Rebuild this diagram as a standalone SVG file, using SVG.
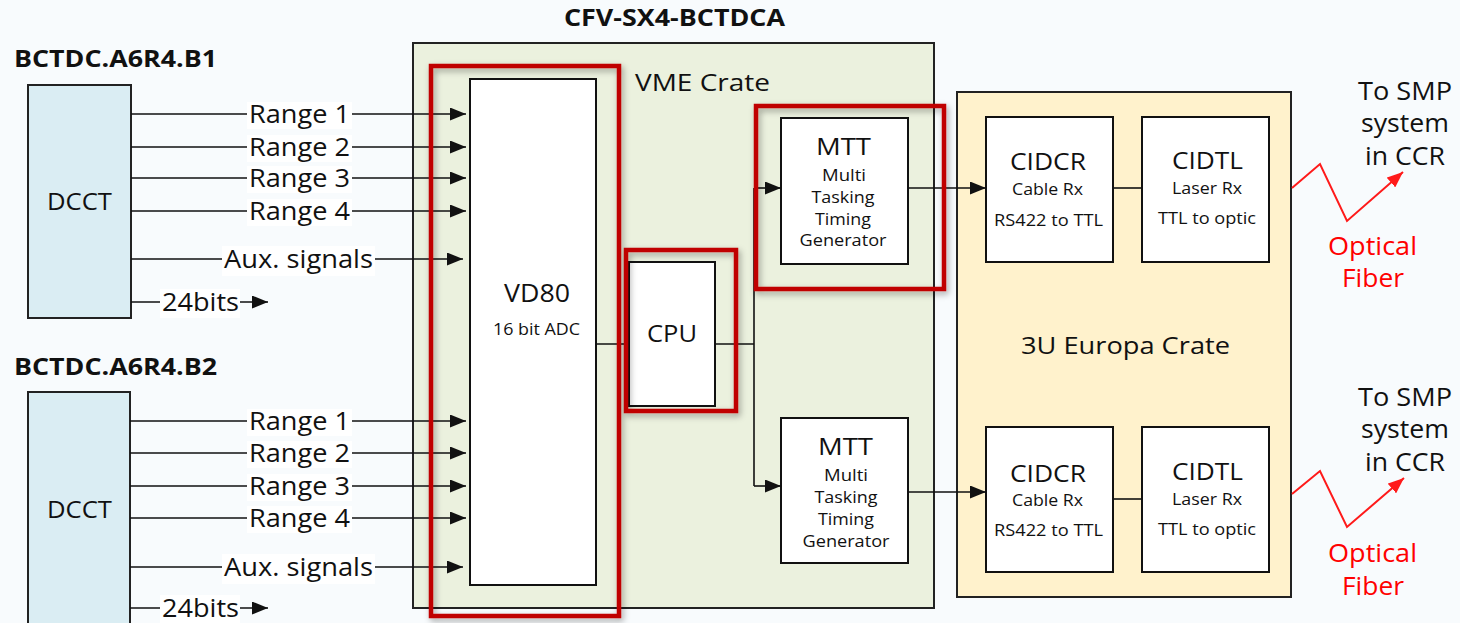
<svg xmlns="http://www.w3.org/2000/svg" width="1460" height="623" viewBox="0 0 1460 623">
<style>
text{font-family:"Open Sans","Liberation Sans",sans-serif;fill:#111}
.b{font-weight:bold}
.t25{font-size:25px}
.t23{font-size:23px}
.t16{font-size:16px}
.red{fill:#ff0000}
.box{fill:#fff;stroke:#111;stroke-width:2}
.dcct{fill:#daedf3;stroke:#222;stroke-width:2}
.hl{fill:none;stroke:#c00000;stroke-width:4.5;filter:url(#sh)}
.ln{fill:none;stroke:#111;stroke-width:1.6}
.lbg{fill:#fff}
.fib{fill:none;stroke:#ff1a1a;stroke-width:2}
</style>
<defs>
<marker id="ah" markerUnits="userSpaceOnUse" markerWidth="17" markerHeight="13" refX="16" refY="6.5" orient="auto">
<path d="M0,0 L16,6.5 L0,13 z" fill="#111"/>
</marker>
<marker id="rah" markerUnits="userSpaceOnUse" markerWidth="17" markerHeight="13" refX="16" refY="6.5" orient="auto">
<path d="M0,0 L16,6.5 L0,13 z" fill="#ff1a1a"/>
</marker>
<filter id="sh" x="-10%" y="-10%" width="130%" height="130%">
<feDropShadow dx="2" dy="3" stdDeviation="3" flood-color="#000" flood-opacity="0.35"/>
</filter>
</defs>
<rect x="0" y="0" width="1460" height="623" fill="#f8fbfd"/>

<text class="b" x="564" y="26" font-size="24" textLength="221" lengthAdjust="spacingAndGlyphs">CFV-SX4-BCTDCA</text>

<g id="vme-crate">
<rect x="413" y="43" width="521" height="565" fill="#ebf1de" stroke="#222" stroke-width="2"/>
<text x="635" y="91" font-size="24" textLength="135" lengthAdjust="spacingAndGlyphs">VME Crate</text>
</g>

<g id="europa-crate">
<rect x="957" y="92" width="334" height="505" fill="#fff2cc" stroke="#222" stroke-width="2"/>
<text x="1021" y="354" font-size="24" textLength="209" lengthAdjust="spacingAndGlyphs">3U Europa Crate</text>
</g>

<g id="dcct1">
<text class="b" x="14" y="67" font-size="23" textLength="203" lengthAdjust="spacingAndGlyphs">BCTDC.A6R4.B1</text>
<rect class="dcct" x="28" y="85" width="103" height="233"/>
<text class="t23" x="47" y="210" textLength="65" lengthAdjust="spacingAndGlyphs">DCCT</text>
</g>

<g id="dcct2">
<text class="b" x="14" y="375" font-size="23" textLength="203" lengthAdjust="spacingAndGlyphs">BCTDC.A6R4.B2</text>
<rect class="dcct" x="28" y="392" width="102" height="240"/>
<text class="t23" x="47" y="518" textLength="65" lengthAdjust="spacingAndGlyphs">DCCT</text>
</g>

<g id="vd80">
<rect class="box" x="470" y="79" width="126" height="506"/>
<text x="504" y="302" font-size="26" textLength="66" lengthAdjust="spacingAndGlyphs">VD80</text>
<text class="t16" x="493" y="335" textLength="87" lengthAdjust="spacingAndGlyphs">16 bit ADC</text>
</g>

<g id="cpu">
<rect class="box" x="629" y="262" width="86" height="144"/>
<text class="t23" x="647" y="342" textLength="50" lengthAdjust="spacingAndGlyphs">CPU</text>
</g>

<g id="mtt1">
<rect class="box" x="781" y="118" width="127" height="146"/>
<text class="t23" x="816" y="155" textLength="55" lengthAdjust="spacingAndGlyphs">MTT</text>
<text class="t16" x="844" y="181" text-anchor="middle" textLength="44" lengthAdjust="spacingAndGlyphs">Multi</text>
<text class="t16" x="843" y="203" text-anchor="middle" textLength="63" lengthAdjust="spacingAndGlyphs">Tasking</text>
<text class="t16" x="843" y="225" text-anchor="middle" textLength="56" lengthAdjust="spacingAndGlyphs">Timing</text>
<text class="t16" x="843" y="246" text-anchor="middle" textLength="87" lengthAdjust="spacingAndGlyphs">Generator</text>
</g>

<g id="mtt2">
<rect class="box" x="781" y="418" width="127" height="145"/>
<text class="t23" x="818" y="455" textLength="55" lengthAdjust="spacingAndGlyphs">MTT</text>
<text class="t16" x="846" y="481" text-anchor="middle" textLength="44" lengthAdjust="spacingAndGlyphs">Multi</text>
<text class="t16" x="846" y="503" text-anchor="middle" textLength="63" lengthAdjust="spacingAndGlyphs">Tasking</text>
<text class="t16" x="846" y="525" text-anchor="middle" textLength="56" lengthAdjust="spacingAndGlyphs">Timing</text>
<text class="t16" x="846" y="547" text-anchor="middle" textLength="87" lengthAdjust="spacingAndGlyphs">Generator</text>
</g>

<g id="cidcr1">
<rect class="box" x="986" y="117" width="127" height="145"/>
<text class="t23" x="1010" y="170" textLength="76" lengthAdjust="spacingAndGlyphs">CIDCR</text>
<text class="t16" x="1012" y="195" textLength="71" lengthAdjust="spacingAndGlyphs">Cable Rx</text>
<text class="t16" x="994" y="226" textLength="109" lengthAdjust="spacingAndGlyphs">RS422 to TTL</text>
</g>

<g id="cidtl1">
<rect class="box" x="1142" y="117" width="127" height="145"/>
<text class="t23" x="1172" y="169" textLength="71" lengthAdjust="spacingAndGlyphs">CIDTL</text>
<text class="t16" x="1172" y="194" textLength="70" lengthAdjust="spacingAndGlyphs">Laser Rx</text>
<text class="t16" x="1158" y="224" textLength="98" lengthAdjust="spacingAndGlyphs">TTL to optic</text>
</g>

<g id="cidcr2">
<rect class="box" x="986" y="427" width="127" height="145"/>
<text class="t23" x="1010" y="482" textLength="76" lengthAdjust="spacingAndGlyphs">CIDCR</text>
<text class="t16" x="1012" y="506" textLength="71" lengthAdjust="spacingAndGlyphs">Cable Rx</text>
<text class="t16" x="994" y="536" textLength="109" lengthAdjust="spacingAndGlyphs">RS422 to TTL</text>
</g>

<g id="cidtl2">
<rect class="box" x="1142" y="427" width="127" height="145"/>
<text class="t23" x="1172" y="480" textLength="71" lengthAdjust="spacingAndGlyphs">CIDTL</text>
<text class="t16" x="1172" y="505" textLength="70" lengthAdjust="spacingAndGlyphs">Laser Rx</text>
<text class="t16" x="1158" y="535" textLength="98" lengthAdjust="spacingAndGlyphs">TTL to optic</text>
</g>

<g id="connectors">
<!-- DCCT1 signals -->
<path class="ln" d="M131,114 H466" marker-end="url(#ah)"/>
<path class="ln" d="M131,147 H466" marker-end="url(#ah)"/>
<path class="ln" d="M131,178 H466" marker-end="url(#ah)"/>
<path class="ln" d="M131,211 H466" marker-end="url(#ah)"/>
<path class="ln" d="M131,259 H463" marker-end="url(#ah)"/>
<path class="ln" d="M131,302 H268" marker-end="url(#ah)"/>
<!-- DCCT2 signals -->
<path class="ln" d="M130,421 H466" marker-end="url(#ah)"/>
<path class="ln" d="M130,453 H466" marker-end="url(#ah)"/>
<path class="ln" d="M130,486 H466" marker-end="url(#ah)"/>
<path class="ln" d="M130,518 H466" marker-end="url(#ah)"/>
<path class="ln" d="M130,567 H463" marker-end="url(#ah)"/>
<path class="ln" d="M130,608 H268" marker-end="url(#ah)"/>
<!-- VD80 - CPU - MTT -->
<path class="ln" d="M596,344 H629"/>
<path class="ln" d="M715,344 H754"/>
<path class="ln" d="M754,188 V486"/>
<path class="ln" d="M754,188 H781" marker-end="url(#ah)"/>
<path class="ln" d="M754,486 H781" marker-end="url(#ah)"/>
<!-- MTT - CIDCR - CIDTL -->
<path class="ln" d="M908,188 H986" marker-end="url(#ah)"/>
<path class="ln" d="M908,492 H986" marker-end="url(#ah)"/>
<path class="ln" d="M1113,188 H1142"/>
<path class="ln" d="M1113,499 H1142"/>
<!-- optical fibers -->
<path class="fib" d="M1292,188 L1320,164 L1347,221 L1403,172" marker-end="url(#rah)"/>
<path class="fib" d="M1292,494 L1320,471 L1347,527 L1404,478" marker-end="url(#rah)"/>

<!-- signal labels -->
<rect class="lbg" x="247" y="102" width="105" height="27"/>
<text class="t25" x="249" y="123" textLength="101" lengthAdjust="spacingAndGlyphs">Range 1</text>
<rect class="lbg" x="247" y="135" width="105" height="27"/>
<text class="t25" x="249" y="156" textLength="101" lengthAdjust="spacingAndGlyphs">Range 2</text>
<rect class="lbg" x="247" y="166" width="105" height="27"/>
<text class="t25" x="249" y="187" textLength="101" lengthAdjust="spacingAndGlyphs">Range 3</text>
<rect class="lbg" x="247" y="199" width="105" height="27"/>
<text class="t25" x="249" y="220" textLength="101" lengthAdjust="spacingAndGlyphs">Range 4</text>
<rect class="lbg" x="222" y="246" width="153" height="30"/>
<text class="t25" x="224" y="268" textLength="149" lengthAdjust="spacingAndGlyphs">Aux. signals</text>
<rect class="lbg" x="160" y="289" width="80" height="29"/>
<text class="t25" x="162" y="311" textLength="77" lengthAdjust="spacingAndGlyphs">24bits</text>

<rect class="lbg" x="247" y="409" width="105" height="27"/>
<text class="t25" x="249" y="430" textLength="101" lengthAdjust="spacingAndGlyphs">Range 1</text>
<rect class="lbg" x="247" y="441" width="105" height="27"/>
<text class="t25" x="249" y="462" textLength="101" lengthAdjust="spacingAndGlyphs">Range 2</text>
<rect class="lbg" x="247" y="474" width="105" height="27"/>
<text class="t25" x="249" y="495" textLength="101" lengthAdjust="spacingAndGlyphs">Range 3</text>
<rect class="lbg" x="247" y="506" width="105" height="27"/>
<text class="t25" x="249" y="527" textLength="101" lengthAdjust="spacingAndGlyphs">Range 4</text>
<rect class="lbg" x="222" y="554" width="153" height="30"/>
<text class="t25" x="224" y="576" textLength="149" lengthAdjust="spacingAndGlyphs">Aux. signals</text>
<rect class="lbg" x="160" y="595" width="80" height="28"/>
<text class="t25" x="162" y="617" textLength="77" lengthAdjust="spacingAndGlyphs">24bits</text>
</g>

<g id="highlights">
<rect class="hl" x="431" y="66" width="188" height="550"/>
<rect class="hl" x="626" y="250" width="110" height="161"/>
<rect class="hl" x="756" y="106" width="188" height="183"/>
</g>

<g id="fiber-labels">
<text class="t25" x="1358" y="100" textLength="94" lengthAdjust="spacingAndGlyphs">To SMP</text>
<text class="t25" x="1361" y="132" textLength="88" lengthAdjust="spacingAndGlyphs">system</text>
<text class="t25" x="1365" y="165" textLength="80" lengthAdjust="spacingAndGlyphs">in CCR</text>
<text class="t25 red" x="1328" y="255" textLength="89" lengthAdjust="spacingAndGlyphs">Optical</text>
<text class="t25 red" x="1342" y="287" textLength="62" lengthAdjust="spacingAndGlyphs">Fiber</text>
<text class="t25" x="1358" y="406" textLength="94" lengthAdjust="spacingAndGlyphs">To SMP</text>
<text class="t25" x="1361" y="438" textLength="88" lengthAdjust="spacingAndGlyphs">system</text>
<text class="t25" x="1365" y="471" textLength="80" lengthAdjust="spacingAndGlyphs">in CCR</text>
<text class="t25 red" x="1328" y="562" textLength="89" lengthAdjust="spacingAndGlyphs">Optical</text>
<text class="t25 red" x="1342" y="595" textLength="62" lengthAdjust="spacingAndGlyphs">Fiber</text>
</g>
</svg>
